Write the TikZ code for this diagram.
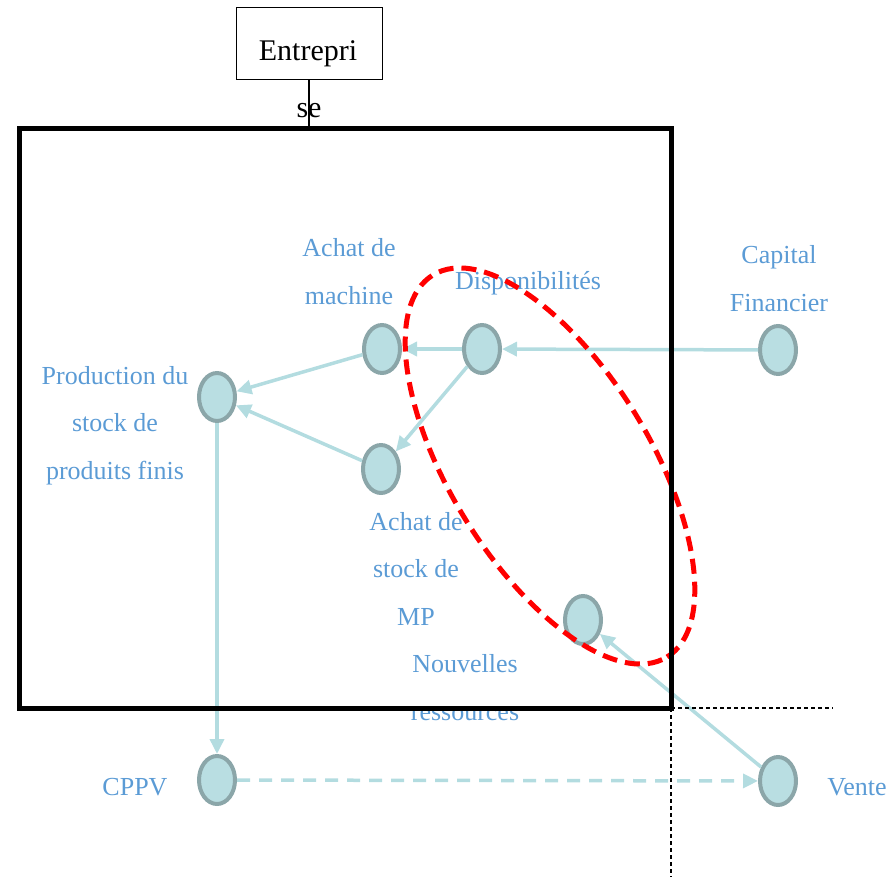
\documentclass[tikz,border=0pt]{standalone}
\usepackage{fontspec}
\setmainfont{Liberation Serif}
\usetikzlibrary{arrows.meta,shapes.geometric}
\definecolor{nodefill}{HTML}{B9DEE2}
\definecolor{nodeline}{HTML}{8BA6A9}
\definecolor{arrowc}{HTML}{B3DCE0}
\definecolor{labelc}{HTML}{5B9BD5}
\begin{document}
\begin{tikzpicture}[x=1pt,y=-1pt,
  res/.style={ellipse, draw=nodeline, fill=nodefill, line width=4pt,
    minimum width=36pt, minimum height=48pt, inner sep=0pt},
  flow/.style={draw=arrowc, line width=3.5pt, -{Triangle[length=15pt,width=14pt]}},
  dflow/.style={flow, dash pattern=on 13pt off 9pt},
  lab/.style={text=labelc, font=\fontsize{26}{47.5}\selectfont, align=center,
    anchor=base, inner sep=0pt},
  bigtxt/.style={font=\fontsize{30}{36}\selectfont, anchor=base, inner sep=0pt},
  guide/.style={draw=black, line width=1.3pt, dash pattern=on 4pt off 3pt}
]
\useasboundingbox (0,0) rectangle (891,877);

% labels (base = baseline of the last line)
\node[lab] (lmach) at (349,304) {Achat de\\machine};
\node[lab] (ldispo) at (528,290) {Disponibilités};
\node[lab] (lcap) at (779,311) {Capital\\Financier};
\node[lab] (lprod) at (115,479) {Production du\\stock de\\produits finis};
\node[lab] (lmp) at (416,625) {Achat de\\stock de\\MP};
\node[lab] (lnouv) at (465,720) {Nouvelles\\ressources};
\node[lab] (lcppv) at (135,795) {CPPV};
\node[lab] (lvente) at (857,795) {Vente};

% resource nodes
\node[res] (mach) at (382,349) {};
\node[res] (dispo) at (482,349) {};
\node[res] (cap) at (778,350) {};
\node[res] (prod) at (217,397) {};
\node[res] (mp) at (381,469) {};
\node[res] (nouv) at (583,620) {};
\node[res] (cppv) at (217,780) {};
\node[res] (vente) at (778,781) {};

% flows
\draw[flow] (cap) -- (dispo);
\draw[flow] (dispo) -- (mach);
\draw[flow] (dispo) -- (mp);
\draw[flow] (mach) -- (prod);
\draw[flow] (mp) -- (prod);
\draw[flow] (prod) -- (cppv);
\draw[dflow] (cppv) -- (vente);
\draw[flow] (vente) -- (nouv);

% red dashed grouping
\draw[red, line width=5pt, dash pattern=on 15pt off 8pt,
  rotate around={-58.5:(550,466)}] (550,466) ellipse [x radius=224pt, y radius=100pt];

% firm boundary
\node[draw, line width=5pt, minimum width=652pt, minimum height=579pt,
  inner sep=0pt, outer sep=0pt, anchor=north west] (firm) at (19,129) {};

% entreprise box
\node[draw, line width=1pt, minimum width=146pt, minimum height=72pt,
  inner sep=0pt, outer sep=0pt] (ent) at (309,44) {};
\node[bigtxt] (enta) at (308,61) {Entrepri};
\node[bigtxt] (entb) at (309,118) {se};
\draw[line width=2pt] (ent.south) -- (ent.south |- firm.north);

% guide lines
\coordinate (gh) at (833,709);
\coordinate (gv) at (670,877);
\draw[guide] (firm.south east) -- (firm.south east -| gh);
\draw[guide] (firm.south east) -- (firm.south east |- gv);
\end{tikzpicture}
\end{document}
